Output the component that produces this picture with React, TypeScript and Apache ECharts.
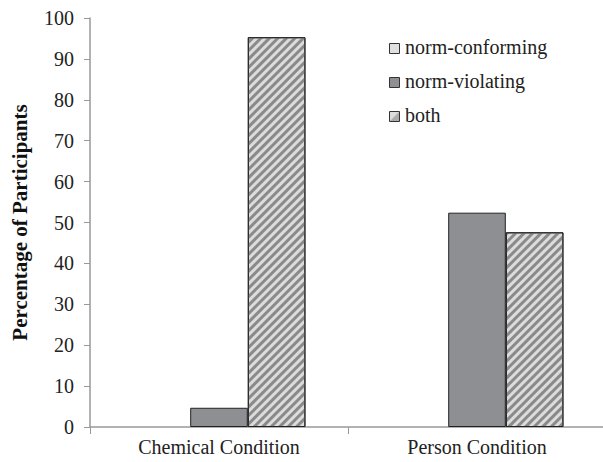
import React, { useEffect, useRef } from "react";
import * as echarts from "echarts";

const categories = ["Chemical Condition", "Person Condition"];
const seriesNames = ["norm-conforming", "norm-violating", "both"];
const normConforming = [0, 0];
const normViolating = [4.7, 52.4];
const both = [95.3, 47.6];
const yTicks = { min: 0, max: 100, interval: 10 };

const FONT = "Liberation Serif";
const COLORS = ["#e0e0e0", "#8e8f93", "#dcdcdc"];

export default function App() {
  const ref = useRef<HTMLDivElement>(null);
  useEffect(() => {
    if (!ref.current) return;
    const chart = echarts.init(ref.current, null, { renderer: "svg" });
    const stripe = {
      symbol: "rect",
      symbolSize: 1,
      dashArrayX: [1, 0],
      dashArrayY: [3, 3],
      rotation: -Math.PI / 4,
      color: "#8a8a8a",
    };
    const legendYs = [48, 82, 116];
    const legendGraphics: any[] = [];
    seriesNames.forEach((name, i) => {
      const cy = legendYs[i];
      legendGraphics.push({
        type: "rect",
        left: 389,
        top: cy - 5,
        shape: { width: 10, height: 10 },
        style: { fill: COLORS[i], stroke: "#333", lineWidth: 1 },
        z: 10,
      });
      if (i === 2) {
        legendGraphics.push({
          type: "polygon",
          shape: { points: [[390, cy + 5], [399, cy - 4], [399, cy + 5]] },
          style: { fill: "#8a8a8a", opacity: 0.6 },
          z: 11,
        });
      }
      legendGraphics.push({
        type: "text",
        left: 405,
        top: cy - 11,
        style: { text: name, fontFamily: FONT, fontSize: 20, fill: "#222" },
        z: 10,
      });
    });
    chart.setOption({
      animation: false,
      backgroundColor: "#ffffff",
      textStyle: { fontFamily: FONT },
      grid: { left: 90, right: -3, top: 18, bottom: 35, containLabel: false, outerBoundsMode: "none" },
      graphic: legendGraphics,
      xAxis: {
        type: "category",
        data: categories,
        axisLine: { lineStyle: { color: "#999", width: 1.5 } },
        axisTick: { show: true, length: 7, lineStyle: { color: "#999" } },
        axisLabel: { fontFamily: FONT, fontSize: 20, color: "#222", margin: 10 },
      },
      yAxis: {
        type: "value",
        min: yTicks.min,
        max: yTicks.max,
        interval: yTicks.interval,
        name: "Percentage of Participants",
        nameLocation: "middle",
        nameGap: 60,
        nameTextStyle: { fontFamily: FONT, fontSize: 21, fontWeight: "bold", color: "#111" },
        axisLine: { show: true, lineStyle: { color: "#999", width: 1.5 } },
        axisTick: { show: true, length: 6, lineStyle: { color: "#999" } },
        axisLabel: { fontFamily: FONT, fontSize: 20, color: "#222", margin: 16 },
        splitLine: { show: false },
      },
      series: [
        {
          name: seriesNames[0],
          type: "bar",
          data: normConforming,
          barGap: "0%",
          barCategoryGap: "33%",
          itemStyle: { color: COLORS[0], borderColor: "#222", borderWidth: 0 },
        },
        {
          name: seriesNames[1],
          type: "bar",
          data: normViolating,
          barGap: "0%",
          barCategoryGap: "33%",
          itemStyle: { color: COLORS[1], borderColor: "#222", borderWidth: 1 },
        },
        {
          name: seriesNames[2],
          type: "bar",
          data: both,
          barGap: "0%",
          barCategoryGap: "33%",
          itemStyle: { color: COLORS[2], borderColor: "#222", borderWidth: 1, decal: stripe },
        },
      ],
    });
    return () => chart.dispose();
  }, []);
  return (
    <div
      ref={ref}
      style={{ position: "absolute", left: 0, top: 0, width: 603, height: 462 }}
    />
  );
}
